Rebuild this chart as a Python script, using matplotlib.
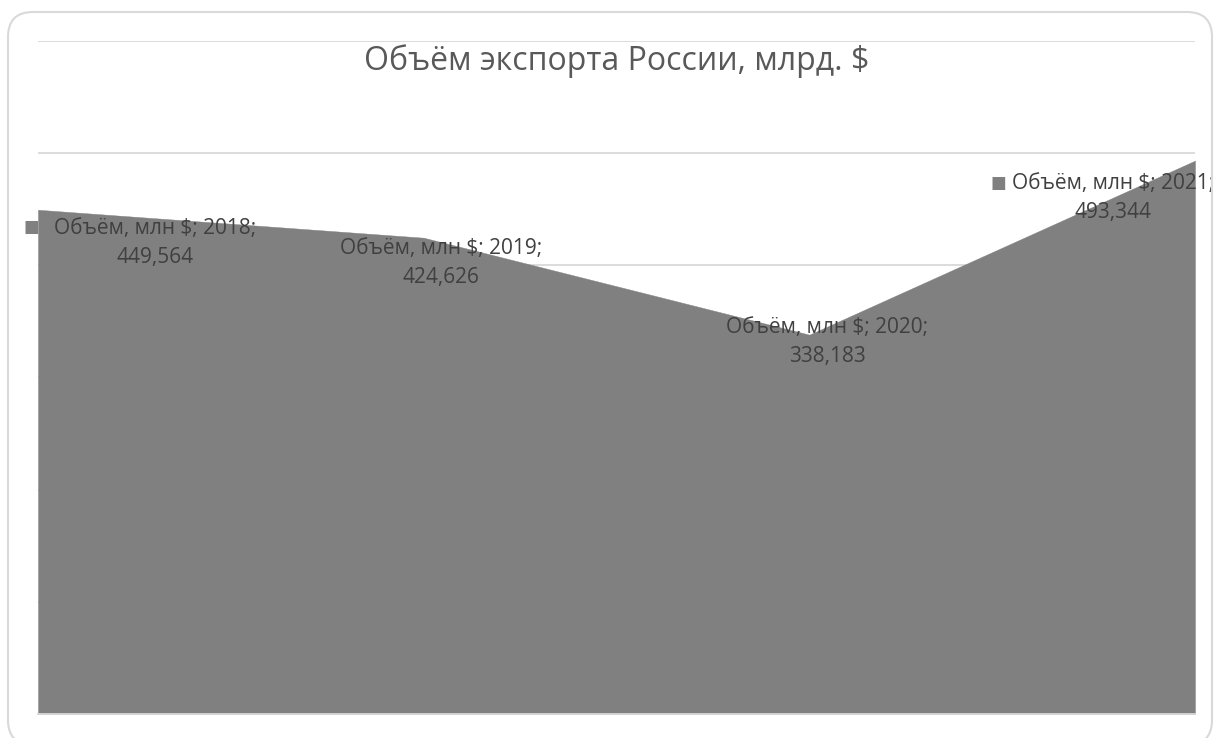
import matplotlib.pyplot as plt
from matplotlib.patches import FancyBboxPatch

years = ["2018", "2019", "2020", "2021"]
values = [449.564, 424.626, 338.183, 493.344]
value_labels = ["449,564", "424,626", "338,183", "493,344"]
series_name = "Объём, млн $"
title = "Объём экспорта России, млрд. $"

# label offsets from the data point, in pixels (dx, dy), dy positive = up
label_offsets = [(117, -33), (17, -25), (18, -7), (-82, -37)]
key_offsets = [(-7, -17), (-104, -14), (-106, 7), (-197, -22)]

plt.rcParams["font.family"] = ["Open Sans", "DejaVu Sans"]

W, H = 1214, 738
fig = plt.figure(figsize=(W / 100, H / 100), dpi=100)
ax = fig.add_axes([38 / W, 1 - 714 / H, (1195 - 38) / W, (714 - 41) / H])

x = list(range(len(years)))
ax.fill_between(x, values, 0, facecolor="#808080", edgecolor="#808080",
                linewidth=0.3, zorder=2)

ax.set_xlim(0, len(years) - 1)
ax.set_ylim(0, 600)
ax.set_yticks(range(0, 601, 100))
ax.set_xticks([])
ax.tick_params(left=False, labelleft=False)
ax.grid(True, axis="y", color="#d9d9d9", linewidth=1.3, zorder=0)
ax.set_axisbelow(True)
for side in ["top", "right", "left"]:
    ax.spines[side].set_visible(False)
ax.spines["bottom"].set_color("#d9d9d9")
ax.spines["bottom"].set_linewidth(1.3)

px = 0.72  # pixels -> points at dpi 100
for i, (yr, lab) in enumerate(zip(years, value_labels)):
    dx, dy = label_offsets[i]
    ax.annotate(f"{series_name}; {yr};\n{lab}", (x[i], values[i]),
                xytext=(dx * px, dy * px), textcoords="offset points",
                ha="center", va="center", fontsize=15, color="#404040",
                linespacing=1.5, zorder=5, annotation_clip=False)
    kx, ky = key_offsets[i]
    ax.annotate("■", (x[i], values[i]), xytext=(kx * px, ky * px),
                textcoords="offset points", ha="center", va="center",
                fontsize=12, color="#808080", family="DejaVu Sans",
                zorder=4, annotation_clip=False)

fig.text((38 + 1195) / 2 / W, 1 - 61 / H, title, ha="center", va="center",
         fontsize=23, color="#595959")

border = FancyBboxPatch((0.08, -0.07), 12.04, 7.33,
                        boxstyle="round,pad=0,rounding_size=0.25",
                        transform=fig.dpi_scale_trans, facecolor="none",
                        edgecolor="#d9d9d9", linewidth=1.5)
fig.patches.append(border)

fig.savefig("out.png", dpi=100)
